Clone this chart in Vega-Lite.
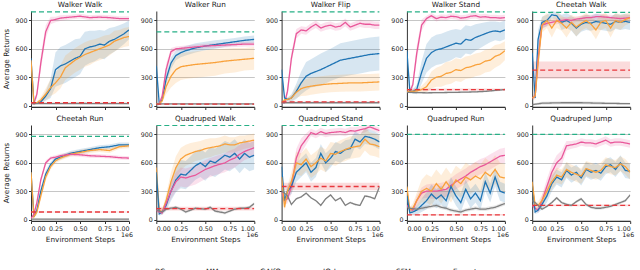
{
"$schema": "https://vega.github.io/schema/vega-lite/v6.json",
"padding": {"left": 2, "right": 4, "top": 0, "bottom": 24},
"data": {"values": [
{"t":0,"m":"SFM","x":0,"y":20,"e":8},{"t":0,"m":"SFM","x":0.03,"y":25,"e":10},{"t":0,"m":"SFM","x":0.06,"y":120,"e":40},{"t":0,"m":"SFM","x":0.1,"y":450,"e":80},{"t":0,"m":"SFM","x":0.15,"y":780,"e":70},{"t":0,"m":"SFM","x":0.2,"y":900,"e":40},{"t":0,"m":"SFM","x":0.25,"y":910,"e":30},{"t":0,"m":"SFM","x":0.3,"y":925,"e":30},{"t":0,"m":"SFM","x":0.4,"y":935,"e":25},{"t":0,"m":"SFM","x":0.5,"y":945,"e":25},{"t":0,"m":"SFM","x":0.6,"y":930,"e":25},{"t":0,"m":"SFM","x":0.7,"y":935,"e":25},{"t":0,"m":"SFM","x":0.8,"y":930,"e":25},{"t":0,"m":"SFM","x":0.9,"y":920,"e":25},{"t":0,"m":"SFM","x":1,"y":920,"e":25},
{"t":0,"m":"GAIfO","x":0,"y":500,"e":20},{"t":0,"m":"GAIfO","x":0.03,"y":20,"e":10},{"t":0,"m":"GAIfO","x":0.06,"y":25,"e":10},{"t":0,"m":"GAIfO","x":0.1,"y":40,"e":20},{"t":0,"m":"GAIfO","x":0.15,"y":100,"e":50},{"t":0,"m":"GAIfO","x":0.2,"y":180,"e":100},{"t":0,"m":"GAIfO","x":0.25,"y":380,"e":180},{"t":0,"m":"GAIfO","x":0.3,"y":420,"e":200},{"t":0,"m":"GAIfO","x":0.35,"y":440,"e":200},{"t":0,"m":"GAIfO","x":0.4,"y":470,"e":200},{"t":0,"m":"GAIfO","x":0.45,"y":500,"e":200},{"t":0,"m":"GAIfO","x":0.5,"y":520,"e":190},{"t":0,"m":"GAIfO","x":0.55,"y":600,"e":180},{"t":0,"m":"GAIfO","x":0.6,"y":620,"e":170},{"t":0,"m":"GAIfO","x":0.65,"y":630,"e":160},{"t":0,"m":"GAIfO","x":0.7,"y":650,"e":150},{"t":0,"m":"GAIfO","x":0.75,"y":640,"e":150},{"t":0,"m":"GAIfO","x":0.8,"y":680,"e":140},{"t":0,"m":"GAIfO","x":0.85,"y":700,"e":130},{"t":0,"m":"GAIfO","x":0.9,"y":730,"e":120},{"t":0,"m":"GAIfO","x":0.95,"y":760,"e":110},{"t":0,"m":"GAIfO","x":1,"y":800,"e":100},
{"t":0,"m":"MM","x":0,"y":480,"e":20},{"t":0,"m":"MM","x":0.03,"y":20,"e":10},{"t":0,"m":"MM","x":0.06,"y":30,"e":10},{"t":0,"m":"MM","x":0.1,"y":60,"e":30},{"t":0,"m":"MM","x":0.15,"y":120,"e":60},{"t":0,"m":"MM","x":0.2,"y":190,"e":90},{"t":0,"m":"MM","x":0.25,"y":240,"e":110},{"t":0,"m":"MM","x":0.3,"y":300,"e":120},{"t":0,"m":"MM","x":0.35,"y":400,"e":130},{"t":0,"m":"MM","x":0.4,"y":440,"e":130},{"t":0,"m":"MM","x":0.45,"y":480,"e":130},{"t":0,"m":"MM","x":0.5,"y":510,"e":130},{"t":0,"m":"MM","x":0.55,"y":540,"e":130},{"t":0,"m":"MM","x":0.6,"y":560,"e":130},{"t":0,"m":"MM","x":0.65,"y":580,"e":120},{"t":0,"m":"MM","x":0.7,"y":600,"e":120},{"t":0,"m":"MM","x":0.75,"y":620,"e":120},{"t":0,"m":"MM","x":0.8,"y":640,"e":110},{"t":0,"m":"MM","x":0.85,"y":680,"e":110},{"t":0,"m":"MM","x":0.9,"y":700,"e":100},{"t":0,"m":"MM","x":0.95,"y":720,"e":100},{"t":0,"m":"MM","x":1,"y":730,"e":100},
{"t":0,"m":"IQ-Learn","x":0,"y":20,"e":5},{"t":0,"m":"IQ-Learn","x":0.5,"y":22,"e":5},{"t":0,"m":"IQ-Learn","x":1,"y":20,"e":5},
{"t":0,"m":"BC","x":0,"y":30,"e":8},{"t":0,"m":"BC","x":1,"y":30,"e":8},
{"t":0,"m":"Expert","x":0,"y":990,"e":0},{"t":0,"m":"Expert","x":1,"y":990,"e":0},

{"t":1,"m":"GAIfO","x":0,"y":420,"e":20},{"t":1,"m":"GAIfO","x":0.03,"y":20,"e":5},{"t":1,"m":"GAIfO","x":0.06,"y":60,"e":20},{"t":1,"m":"GAIfO","x":0.1,"y":280,"e":60},{"t":1,"m":"GAIfO","x":0.15,"y":450,"e":60},{"t":1,"m":"GAIfO","x":0.2,"y":530,"e":50},{"t":1,"m":"GAIfO","x":0.25,"y":560,"e":50},{"t":1,"m":"GAIfO","x":0.3,"y":580,"e":50},{"t":1,"m":"GAIfO","x":0.4,"y":610,"e":50},{"t":1,"m":"GAIfO","x":0.5,"y":630,"e":45},{"t":1,"m":"GAIfO","x":0.6,"y":645,"e":45},{"t":1,"m":"GAIfO","x":0.7,"y":660,"e":40},{"t":1,"m":"GAIfO","x":0.8,"y":675,"e":40},{"t":1,"m":"GAIfO","x":0.9,"y":690,"e":40},{"t":1,"m":"GAIfO","x":1,"y":700,"e":40},
{"t":1,"m":"SFM","x":0,"y":20,"e":5},{"t":1,"m":"SFM","x":0.03,"y":20,"e":5},{"t":1,"m":"SFM","x":0.06,"y":100,"e":30},{"t":1,"m":"SFM","x":0.1,"y":380,"e":60},{"t":1,"m":"SFM","x":0.15,"y":570,"e":40},{"t":1,"m":"SFM","x":0.2,"y":600,"e":25},{"t":1,"m":"SFM","x":0.25,"y":605,"e":25},{"t":1,"m":"SFM","x":0.3,"y":610,"e":25},{"t":1,"m":"SFM","x":0.4,"y":620,"e":25},{"t":1,"m":"SFM","x":0.5,"y":630,"e":25},{"t":1,"m":"SFM","x":0.6,"y":635,"e":25},{"t":1,"m":"SFM","x":0.7,"y":640,"e":25},{"t":1,"m":"SFM","x":0.8,"y":645,"e":25},{"t":1,"m":"SFM","x":0.9,"y":650,"e":25},{"t":1,"m":"SFM","x":1,"y":650,"e":25},
{"t":1,"m":"MM","x":0,"y":20,"e":5},{"t":1,"m":"MM","x":0.03,"y":20,"e":5},{"t":1,"m":"MM","x":0.06,"y":50,"e":20},{"t":1,"m":"MM","x":0.1,"y":200,"e":80},{"t":1,"m":"MM","x":0.15,"y":310,"e":120},{"t":1,"m":"MM","x":0.2,"y":380,"e":140},{"t":1,"m":"MM","x":0.25,"y":410,"e":140},{"t":1,"m":"MM","x":0.3,"y":420,"e":140},{"t":1,"m":"MM","x":0.4,"y":435,"e":140},{"t":1,"m":"MM","x":0.5,"y":445,"e":140},{"t":1,"m":"MM","x":0.6,"y":455,"e":140},{"t":1,"m":"MM","x":0.7,"y":470,"e":130},{"t":1,"m":"MM","x":0.8,"y":480,"e":130},{"t":1,"m":"MM","x":0.9,"y":490,"e":120},{"t":1,"m":"MM","x":1,"y":500,"e":120},
{"t":1,"m":"IQ-Learn","x":0,"y":18,"e":4},{"t":1,"m":"IQ-Learn","x":1,"y":18,"e":4},
{"t":1,"m":"BC","x":0,"y":15,"e":4},{"t":1,"m":"BC","x":1,"y":15,"e":4},
{"t":1,"m":"Expert","x":0,"y":780,"e":0},{"t":1,"m":"Expert","x":1,"y":780,"e":0},

{"t":2,"m":"SFM","x":0,"y":30,"e":8},{"t":2,"m":"SFM","x":0.03,"y":30,"e":8},{"t":2,"m":"SFM","x":0.06,"y":150,"e":50},{"t":2,"m":"SFM","x":0.1,"y":500,"e":60},{"t":2,"m":"SFM","x":0.15,"y":760,"e":50},{"t":2,"m":"SFM","x":0.2,"y":800,"e":40},{"t":2,"m":"SFM","x":0.25,"y":790,"e":40},{"t":2,"m":"SFM","x":0.3,"y":830,"e":40},{"t":2,"m":"SFM","x":0.35,"y":860,"e":40},{"t":2,"m":"SFM","x":0.4,"y":820,"e":40},{"t":2,"m":"SFM","x":0.45,"y":840,"e":40},{"t":2,"m":"SFM","x":0.5,"y":850,"e":40},{"t":2,"m":"SFM","x":0.55,"y":830,"e":40},{"t":2,"m":"SFM","x":0.6,"y":840,"e":40},{"t":2,"m":"SFM","x":0.65,"y":880,"e":40},{"t":2,"m":"SFM","x":0.7,"y":830,"e":40},{"t":2,"m":"SFM","x":0.75,"y":850,"e":40},{"t":2,"m":"SFM","x":0.8,"y":870,"e":40},{"t":2,"m":"SFM","x":0.85,"y":860,"e":40},{"t":2,"m":"SFM","x":0.9,"y":860,"e":40},{"t":2,"m":"SFM","x":0.95,"y":850,"e":40},{"t":2,"m":"SFM","x":1,"y":850,"e":40},
{"t":2,"m":"GAIfO","x":0,"y":380,"e":20},{"t":2,"m":"GAIfO","x":0.03,"y":80,"e":20},{"t":2,"m":"GAIfO","x":0.06,"y":65,"e":20},{"t":2,"m":"GAIfO","x":0.1,"y":80,"e":40},{"t":2,"m":"GAIfO","x":0.15,"y":150,"e":80},{"t":2,"m":"GAIfO","x":0.2,"y":240,"e":120},{"t":2,"m":"GAIfO","x":0.25,"y":310,"e":150},{"t":2,"m":"GAIfO","x":0.3,"y":340,"e":150},{"t":2,"m":"GAIfO","x":0.4,"y":380,"e":170},{"t":2,"m":"GAIfO","x":0.5,"y":430,"e":170},{"t":2,"m":"GAIfO","x":0.6,"y":480,"e":180},{"t":2,"m":"GAIfO","x":0.7,"y":500,"e":180},{"t":2,"m":"GAIfO","x":0.8,"y":520,"e":180},{"t":2,"m":"GAIfO","x":0.9,"y":540,"e":180},{"t":2,"m":"GAIfO","x":1,"y":550,"e":180},
{"t":2,"m":"MM","x":0,"y":30,"e":10},{"t":2,"m":"MM","x":0.03,"y":60,"e":15},{"t":2,"m":"MM","x":0.06,"y":65,"e":15},{"t":2,"m":"MM","x":0.1,"y":80,"e":30},{"t":2,"m":"MM","x":0.15,"y":140,"e":60},{"t":2,"m":"MM","x":0.2,"y":180,"e":80},{"t":2,"m":"MM","x":0.25,"y":195,"e":90},{"t":2,"m":"MM","x":0.3,"y":205,"e":90},{"t":2,"m":"MM","x":0.4,"y":220,"e":90},{"t":2,"m":"MM","x":0.5,"y":230,"e":90},{"t":2,"m":"MM","x":0.6,"y":235,"e":90},{"t":2,"m":"MM","x":0.7,"y":240,"e":90},{"t":2,"m":"MM","x":0.8,"y":240,"e":90},{"t":2,"m":"MM","x":0.9,"y":245,"e":90},{"t":2,"m":"MM","x":1,"y":250,"e":90},
{"t":2,"m":"IQ-Learn","x":0,"y":30,"e":5},{"t":2,"m":"IQ-Learn","x":1,"y":30,"e":5},
{"t":2,"m":"BC","x":0,"y":40,"e":6},{"t":2,"m":"BC","x":1,"y":40,"e":6},
{"t":2,"m":"Expert","x":0,"y":990,"e":0},{"t":2,"m":"Expert","x":1,"y":990,"e":0},

{"t":3,"m":"SFM","x":0,"y":150,"e":10},{"t":3,"m":"SFM","x":0.03,"y":150,"e":10},{"t":3,"m":"SFM","x":0.06,"y":220,"e":40},{"t":3,"m":"SFM","x":0.1,"y":550,"e":80},{"t":3,"m":"SFM","x":0.15,"y":850,"e":60},{"t":3,"m":"SFM","x":0.2,"y":920,"e":30},{"t":3,"m":"SFM","x":0.25,"y":950,"e":30},{"t":3,"m":"SFM","x":0.3,"y":920,"e":30},{"t":3,"m":"SFM","x":0.35,"y":935,"e":30},{"t":3,"m":"SFM","x":0.4,"y":930,"e":30},{"t":3,"m":"SFM","x":0.45,"y":945,"e":30},{"t":3,"m":"SFM","x":0.5,"y":940,"e":30},{"t":3,"m":"SFM","x":0.55,"y":925,"e":30},{"t":3,"m":"SFM","x":0.6,"y":930,"e":30},{"t":3,"m":"SFM","x":0.65,"y":945,"e":30},{"t":3,"m":"SFM","x":0.7,"y":950,"e":30},{"t":3,"m":"SFM","x":0.75,"y":935,"e":30},{"t":3,"m":"SFM","x":0.8,"y":940,"e":30},{"t":3,"m":"SFM","x":0.85,"y":930,"e":30},{"t":3,"m":"SFM","x":0.9,"y":930,"e":30},{"t":3,"m":"SFM","x":0.95,"y":925,"e":30},{"t":3,"m":"SFM","x":1,"y":930,"e":30},
{"t":3,"m":"GAIfO","x":0,"y":580,"e":20},{"t":3,"m":"GAIfO","x":0.03,"y":150,"e":20},{"t":3,"m":"GAIfO","x":0.06,"y":150,"e":20},{"t":3,"m":"GAIfO","x":0.1,"y":170,"e":50},{"t":3,"m":"GAIfO","x":0.15,"y":350,"e":120},{"t":3,"m":"GAIfO","x":0.2,"y":500,"e":150},{"t":3,"m":"GAIfO","x":0.25,"y":560,"e":160},{"t":3,"m":"GAIfO","x":0.3,"y":590,"e":160},{"t":3,"m":"GAIfO","x":0.35,"y":600,"e":160},{"t":3,"m":"GAIfO","x":0.4,"y":620,"e":160},{"t":3,"m":"GAIfO","x":0.45,"y":640,"e":160},{"t":3,"m":"GAIfO","x":0.5,"y":660,"e":150},{"t":3,"m":"GAIfO","x":0.55,"y":650,"e":150},{"t":3,"m":"GAIfO","x":0.6,"y":700,"e":150},{"t":3,"m":"GAIfO","x":0.65,"y":690,"e":150},{"t":3,"m":"GAIfO","x":0.7,"y":720,"e":140},{"t":3,"m":"GAIfO","x":0.75,"y":740,"e":130},{"t":3,"m":"GAIfO","x":0.8,"y":760,"e":120},{"t":3,"m":"GAIfO","x":0.85,"y":780,"e":110},{"t":3,"m":"GAIfO","x":0.9,"y":790,"e":100},{"t":3,"m":"GAIfO","x":0.95,"y":780,"e":100},{"t":3,"m":"GAIfO","x":1,"y":800,"e":100},
{"t":3,"m":"MM","x":0,"y":150,"e":10},{"t":3,"m":"MM","x":0.03,"y":150,"e":10},{"t":3,"m":"MM","x":0.06,"y":150,"e":15},{"t":3,"m":"MM","x":0.1,"y":155,"e":20},{"t":3,"m":"MM","x":0.15,"y":170,"e":40},{"t":3,"m":"MM","x":0.2,"y":200,"e":60},{"t":3,"m":"MM","x":0.25,"y":270,"e":90},{"t":3,"m":"MM","x":0.3,"y":300,"e":100},{"t":3,"m":"MM","x":0.35,"y":310,"e":110},{"t":3,"m":"MM","x":0.4,"y":340,"e":120},{"t":3,"m":"MM","x":0.45,"y":350,"e":120},{"t":3,"m":"MM","x":0.5,"y":380,"e":120},{"t":3,"m":"MM","x":0.55,"y":370,"e":120},{"t":3,"m":"MM","x":0.6,"y":400,"e":120},{"t":3,"m":"MM","x":0.65,"y":410,"e":120},{"t":3,"m":"MM","x":0.7,"y":430,"e":120},{"t":3,"m":"MM","x":0.75,"y":440,"e":120},{"t":3,"m":"MM","x":0.8,"y":470,"e":120},{"t":3,"m":"MM","x":0.85,"y":480,"e":120},{"t":3,"m":"MM","x":0.9,"y":520,"e":120},{"t":3,"m":"MM","x":0.95,"y":540,"e":110},{"t":3,"m":"MM","x":1,"y":580,"e":100},
{"t":3,"m":"IQ-Learn","x":0,"y":140,"e":10},{"t":3,"m":"IQ-Learn","x":0.2,"y":135,"e":10},{"t":3,"m":"IQ-Learn","x":0.5,"y":140,"e":10},{"t":3,"m":"IQ-Learn","x":0.7,"y":145,"e":10},{"t":3,"m":"IQ-Learn","x":0.8,"y":150,"e":10},{"t":3,"m":"IQ-Learn","x":0.9,"y":160,"e":10},{"t":3,"m":"IQ-Learn","x":1,"y":170,"e":10},
{"t":3,"m":"BC","x":0,"y":168,"e":12},{"t":3,"m":"BC","x":1,"y":168,"e":12},
{"t":3,"m":"Expert","x":0,"y":990,"e":0},{"t":3,"m":"Expert","x":1,"y":990,"e":0},

{"t":4,"m":"GAIfO","x":0,"y":560,"e":20},{"t":4,"m":"GAIfO","x":0.03,"y":80,"e":30},{"t":4,"m":"GAIfO","x":0.06,"y":700,"e":100},{"t":4,"m":"GAIfO","x":0.1,"y":880,"e":60},{"t":4,"m":"GAIfO","x":0.15,"y":900,"e":60},{"t":4,"m":"GAIfO","x":0.2,"y":960,"e":40},{"t":4,"m":"GAIfO","x":0.25,"y":950,"e":40},{"t":4,"m":"GAIfO","x":0.3,"y":880,"e":80},{"t":4,"m":"GAIfO","x":0.35,"y":900,"e":80},{"t":4,"m":"GAIfO","x":0.4,"y":870,"e":80},{"t":4,"m":"GAIfO","x":0.45,"y":820,"e":90},{"t":4,"m":"GAIfO","x":0.5,"y":860,"e":80},{"t":4,"m":"GAIfO","x":0.55,"y":880,"e":80},{"t":4,"m":"GAIfO","x":0.6,"y":870,"e":80},{"t":4,"m":"GAIfO","x":0.65,"y":890,"e":80},{"t":4,"m":"GAIfO","x":0.7,"y":880,"e":80},{"t":4,"m":"GAIfO","x":0.75,"y":870,"e":80},{"t":4,"m":"GAIfO","x":0.8,"y":860,"e":80},{"t":4,"m":"GAIfO","x":0.85,"y":890,"e":80},{"t":4,"m":"GAIfO","x":0.9,"y":880,"e":80},{"t":4,"m":"GAIfO","x":0.95,"y":890,"e":80},{"t":4,"m":"GAIfO","x":1,"y":880,"e":80},
{"t":4,"m":"SFM","x":0,"y":80,"e":20},{"t":4,"m":"SFM","x":0.03,"y":100,"e":30},{"t":4,"m":"SFM","x":0.06,"y":500,"e":100},{"t":4,"m":"SFM","x":0.1,"y":850,"e":40},{"t":4,"m":"SFM","x":0.15,"y":870,"e":30},{"t":4,"m":"SFM","x":0.2,"y":880,"e":30},{"t":4,"m":"SFM","x":0.25,"y":890,"e":30},{"t":4,"m":"SFM","x":0.3,"y":900,"e":30},{"t":4,"m":"SFM","x":0.35,"y":910,"e":30},{"t":4,"m":"SFM","x":0.4,"y":900,"e":30},{"t":4,"m":"SFM","x":0.45,"y":915,"e":30},{"t":4,"m":"SFM","x":0.5,"y":920,"e":30},{"t":4,"m":"SFM","x":0.55,"y":930,"e":30},{"t":4,"m":"SFM","x":0.6,"y":930,"e":30},{"t":4,"m":"SFM","x":0.65,"y":940,"e":30},{"t":4,"m":"SFM","x":0.7,"y":940,"e":30},{"t":4,"m":"SFM","x":0.75,"y":935,"e":30},{"t":4,"m":"SFM","x":0.8,"y":930,"e":30},{"t":4,"m":"SFM","x":0.85,"y":925,"e":30},{"t":4,"m":"SFM","x":0.9,"y":920,"e":30},{"t":4,"m":"SFM","x":0.95,"y":925,"e":30},{"t":4,"m":"SFM","x":1,"y":930,"e":30},
{"t":4,"m":"MM","x":0,"y":80,"e":20},{"t":4,"m":"MM","x":0.03,"y":100,"e":30},{"t":4,"m":"MM","x":0.06,"y":450,"e":120},{"t":4,"m":"MM","x":0.1,"y":850,"e":80},{"t":4,"m":"MM","x":0.15,"y":900,"e":80},{"t":4,"m":"MM","x":0.2,"y":820,"e":100},{"t":4,"m":"MM","x":0.25,"y":900,"e":80},{"t":4,"m":"MM","x":0.3,"y":870,"e":80},{"t":4,"m":"MM","x":0.35,"y":820,"e":100},{"t":4,"m":"MM","x":0.4,"y":880,"e":80},{"t":4,"m":"MM","x":0.45,"y":830,"e":100},{"t":4,"m":"MM","x":0.5,"y":870,"e":80},{"t":4,"m":"MM","x":0.55,"y":900,"e":80},{"t":4,"m":"MM","x":0.6,"y":860,"e":80},{"t":4,"m":"MM","x":0.65,"y":800,"e":100},{"t":4,"m":"MM","x":0.7,"y":880,"e":80},{"t":4,"m":"MM","x":0.75,"y":900,"e":80},{"t":4,"m":"MM","x":0.8,"y":820,"e":100},{"t":4,"m":"MM","x":0.85,"y":900,"e":80},{"t":4,"m":"MM","x":0.9,"y":880,"e":80},{"t":4,"m":"MM","x":0.95,"y":910,"e":60},{"t":4,"m":"MM","x":1,"y":930,"e":60},
{"t":4,"m":"IQ-Learn","x":0,"y":10,"e":10},{"t":4,"m":"IQ-Learn","x":0.1,"y":25,"e":15},{"t":4,"m":"IQ-Learn","x":0.3,"y":30,"e":15},{"t":4,"m":"IQ-Learn","x":0.5,"y":30,"e":15},{"t":4,"m":"IQ-Learn","x":0.7,"y":25,"e":15},{"t":4,"m":"IQ-Learn","x":1,"y":20,"e":10},
{"t":4,"m":"BC","x":0,"y":375,"e":90},{"t":4,"m":"BC","x":1,"y":375,"e":90},
{"t":4,"m":"Expert","x":0,"y":985,"e":0},{"t":4,"m":"Expert","x":1,"y":985,"e":0},

{"t":5,"m":"GAIfO","x":0,"y":500,"e":20},{"t":5,"m":"GAIfO","x":0.03,"y":30,"e":10},{"t":5,"m":"GAIfO","x":0.06,"y":100,"e":30},{"t":5,"m":"GAIfO","x":0.1,"y":300,"e":40},{"t":5,"m":"GAIfO","x":0.15,"y":480,"e":40},{"t":5,"m":"GAIfO","x":0.2,"y":580,"e":30},{"t":5,"m":"GAIfO","x":0.25,"y":640,"e":25},{"t":5,"m":"GAIfO","x":0.3,"y":660,"e":25},{"t":5,"m":"GAIfO","x":0.4,"y":700,"e":25},{"t":5,"m":"GAIfO","x":0.5,"y":720,"e":25},{"t":5,"m":"GAIfO","x":0.6,"y":740,"e":25},{"t":5,"m":"GAIfO","x":0.7,"y":760,"e":25},{"t":5,"m":"GAIfO","x":0.8,"y":770,"e":25},{"t":5,"m":"GAIfO","x":0.9,"y":790,"e":25},{"t":5,"m":"GAIfO","x":1,"y":790,"e":25},
{"t":5,"m":"MM","x":0,"y":500,"e":20},{"t":5,"m":"MM","x":0.03,"y":30,"e":10},{"t":5,"m":"MM","x":0.06,"y":80,"e":30},{"t":5,"m":"MM","x":0.1,"y":250,"e":40},{"t":5,"m":"MM","x":0.15,"y":450,"e":40},{"t":5,"m":"MM","x":0.2,"y":560,"e":30},{"t":5,"m":"MM","x":0.25,"y":620,"e":25},{"t":5,"m":"MM","x":0.3,"y":650,"e":25},{"t":5,"m":"MM","x":0.4,"y":690,"e":25},{"t":5,"m":"MM","x":0.5,"y":710,"e":25},{"t":5,"m":"MM","x":0.6,"y":730,"e":25},{"t":5,"m":"MM","x":0.7,"y":740,"e":25},{"t":5,"m":"MM","x":0.8,"y":730,"e":25},{"t":5,"m":"MM","x":0.9,"y":770,"e":25},{"t":5,"m":"MM","x":1,"y":780,"e":25},
{"t":5,"m":"SFM","x":0,"y":10,"e":5},{"t":5,"m":"SFM","x":0.03,"y":60,"e":15},{"t":5,"m":"SFM","x":0.06,"y":180,"e":30},{"t":5,"m":"SFM","x":0.1,"y":420,"e":30},{"t":5,"m":"SFM","x":0.15,"y":600,"e":25},{"t":5,"m":"SFM","x":0.2,"y":650,"e":20},{"t":5,"m":"SFM","x":0.25,"y":660,"e":20},{"t":5,"m":"SFM","x":0.3,"y":675,"e":20},{"t":5,"m":"SFM","x":0.4,"y":690,"e":20},{"t":5,"m":"SFM","x":0.5,"y":685,"e":20},{"t":5,"m":"SFM","x":0.6,"y":675,"e":20},{"t":5,"m":"SFM","x":0.7,"y":670,"e":20},{"t":5,"m":"SFM","x":0.8,"y":665,"e":20},{"t":5,"m":"SFM","x":0.9,"y":655,"e":20},{"t":5,"m":"SFM","x":1,"y":650,"e":20},
{"t":5,"m":"IQ-Learn","x":0,"y":5,"e":3},{"t":5,"m":"IQ-Learn","x":1,"y":5,"e":3},
{"t":5,"m":"BC","x":0,"y":80,"e":5},{"t":5,"m":"BC","x":1,"y":80,"e":5},
{"t":5,"m":"Expert","x":0,"y":880,"e":0},{"t":5,"m":"Expert","x":1,"y":880,"e":0},

{"t":6,"m":"MM","x":0,"y":550,"e":20},{"t":6,"m":"MM","x":0.03,"y":100,"e":20},{"t":6,"m":"MM","x":0.06,"y":80,"e":30},{"t":6,"m":"MM","x":0.1,"y":200,"e":60},{"t":6,"m":"MM","x":0.15,"y":400,"e":100},{"t":6,"m":"MM","x":0.2,"y":550,"e":120},{"t":6,"m":"MM","x":0.25,"y":640,"e":120},{"t":6,"m":"MM","x":0.3,"y":680,"e":110},{"t":6,"m":"MM","x":0.35,"y":700,"e":110},{"t":6,"m":"MM","x":0.4,"y":720,"e":100},{"t":6,"m":"MM","x":0.45,"y":730,"e":100},{"t":6,"m":"MM","x":0.5,"y":750,"e":100},{"t":6,"m":"MM","x":0.55,"y":760,"e":100},{"t":6,"m":"MM","x":0.6,"y":770,"e":90},{"t":6,"m":"MM","x":0.65,"y":780,"e":90},{"t":6,"m":"MM","x":0.7,"y":800,"e":90},{"t":6,"m":"MM","x":0.75,"y":790,"e":80},{"t":6,"m":"MM","x":0.8,"y":790,"e":80},{"t":6,"m":"MM","x":0.85,"y":810,"e":80},{"t":6,"m":"MM","x":0.9,"y":820,"e":70},{"t":6,"m":"MM","x":0.95,"y":830,"e":70},{"t":6,"m":"MM","x":1,"y":840,"e":70},
{"t":6,"m":"GAIfO","x":0,"y":500,"e":20},{"t":6,"m":"GAIfO","x":0.03,"y":60,"e":20},{"t":6,"m":"GAIfO","x":0.06,"y":80,"e":30},{"t":6,"m":"GAIfO","x":0.1,"y":150,"e":60},{"t":6,"m":"GAIfO","x":0.15,"y":300,"e":100},{"t":6,"m":"GAIfO","x":0.2,"y":420,"e":130},{"t":6,"m":"GAIfO","x":0.25,"y":480,"e":150},{"t":6,"m":"GAIfO","x":0.3,"y":470,"e":150},{"t":6,"m":"GAIfO","x":0.35,"y":520,"e":150},{"t":6,"m":"GAIfO","x":0.4,"y":570,"e":150},{"t":6,"m":"GAIfO","x":0.45,"y":600,"e":150},{"t":6,"m":"GAIfO","x":0.5,"y":560,"e":150},{"t":6,"m":"GAIfO","x":0.55,"y":620,"e":150},{"t":6,"m":"GAIfO","x":0.6,"y":600,"e":150},{"t":6,"m":"GAIfO","x":0.65,"y":640,"e":150},{"t":6,"m":"GAIfO","x":0.7,"y":680,"e":150},{"t":6,"m":"GAIfO","x":0.75,"y":660,"e":150},{"t":6,"m":"GAIfO","x":0.8,"y":700,"e":150},{"t":6,"m":"GAIfO","x":0.85,"y":640,"e":150},{"t":6,"m":"GAIfO","x":0.9,"y":700,"e":150},{"t":6,"m":"GAIfO","x":0.95,"y":660,"e":150},{"t":6,"m":"GAIfO","x":1,"y":680,"e":150},
{"t":6,"m":"SFM","x":0,"y":100,"e":20},{"t":6,"m":"SFM","x":0.03,"y":80,"e":20},{"t":6,"m":"SFM","x":0.06,"y":70,"e":20},{"t":6,"m":"SFM","x":0.1,"y":170,"e":50},{"t":6,"m":"SFM","x":0.15,"y":300,"e":80},{"t":6,"m":"SFM","x":0.2,"y":400,"e":100},{"t":6,"m":"SFM","x":0.25,"y":450,"e":100},{"t":6,"m":"SFM","x":0.3,"y":440,"e":100},{"t":6,"m":"SFM","x":0.35,"y":455,"e":100},{"t":6,"m":"SFM","x":0.4,"y":470,"e":100},{"t":6,"m":"SFM","x":0.45,"y":500,"e":100},{"t":6,"m":"SFM","x":0.5,"y":530,"e":100},{"t":6,"m":"SFM","x":0.55,"y":550,"e":100},{"t":6,"m":"SFM","x":0.6,"y":570,"e":100},{"t":6,"m":"SFM","x":0.65,"y":585,"e":100},{"t":6,"m":"SFM","x":0.7,"y":600,"e":100},{"t":6,"m":"SFM","x":0.75,"y":630,"e":100},{"t":6,"m":"SFM","x":0.8,"y":650,"e":100},{"t":6,"m":"SFM","x":0.85,"y":690,"e":100},{"t":6,"m":"SFM","x":0.9,"y":720,"e":90},{"t":6,"m":"SFM","x":0.95,"y":740,"e":90},{"t":6,"m":"SFM","x":1,"y":760,"e":90},
{"t":6,"m":"IQ-Learn","x":0,"y":100,"e":15},{"t":6,"m":"IQ-Learn","x":0.03,"y":90,"e":15},{"t":6,"m":"IQ-Learn","x":0.06,"y":80,"e":15},{"t":6,"m":"IQ-Learn","x":0.1,"y":110,"e":15},{"t":6,"m":"IQ-Learn","x":0.15,"y":120,"e":15},{"t":6,"m":"IQ-Learn","x":0.2,"y":130,"e":15},{"t":6,"m":"IQ-Learn","x":0.25,"y":110,"e":15},{"t":6,"m":"IQ-Learn","x":0.3,"y":80,"e":15},{"t":6,"m":"IQ-Learn","x":0.35,"y":100,"e":15},{"t":6,"m":"IQ-Learn","x":0.4,"y":120,"e":15},{"t":6,"m":"IQ-Learn","x":0.45,"y":115,"e":15},{"t":6,"m":"IQ-Learn","x":0.5,"y":110,"e":15},{"t":6,"m":"IQ-Learn","x":0.55,"y":130,"e":15},{"t":6,"m":"IQ-Learn","x":0.6,"y":90,"e":15},{"t":6,"m":"IQ-Learn","x":0.65,"y":80,"e":15},{"t":6,"m":"IQ-Learn","x":0.7,"y":70,"e":15},{"t":6,"m":"IQ-Learn","x":0.75,"y":90,"e":15},{"t":6,"m":"IQ-Learn","x":0.8,"y":110,"e":15},{"t":6,"m":"IQ-Learn","x":0.85,"y":120,"e":15},{"t":6,"m":"IQ-Learn","x":0.9,"y":120,"e":15},{"t":6,"m":"IQ-Learn","x":0.95,"y":130,"e":15},{"t":6,"m":"IQ-Learn","x":1,"y":170,"e":15},
{"t":6,"m":"BC","x":0,"y":115,"e":20},{"t":6,"m":"BC","x":1,"y":115,"e":20},
{"t":6,"m":"Expert","x":0,"y":995,"e":0},{"t":6,"m":"Expert","x":1,"y":995,"e":0},

{"t":7,"m":"SFM","x":0,"y":300,"e":30},{"t":7,"m":"SFM","x":0.03,"y":200,"e":40},{"t":7,"m":"SFM","x":0.06,"y":220,"e":50},{"t":7,"m":"SFM","x":0.1,"y":350,"e":80},{"t":7,"m":"SFM","x":0.15,"y":650,"e":100},{"t":7,"m":"SFM","x":0.2,"y":780,"e":80},{"t":7,"m":"SFM","x":0.25,"y":850,"e":60},{"t":7,"m":"SFM","x":0.3,"y":920,"e":40},{"t":7,"m":"SFM","x":0.35,"y":900,"e":40},{"t":7,"m":"SFM","x":0.4,"y":930,"e":40},{"t":7,"m":"SFM","x":0.45,"y":910,"e":40},{"t":7,"m":"SFM","x":0.5,"y":920,"e":40},{"t":7,"m":"SFM","x":0.55,"y":925,"e":40},{"t":7,"m":"SFM","x":0.6,"y":930,"e":40},{"t":7,"m":"SFM","x":0.65,"y":920,"e":40},{"t":7,"m":"SFM","x":0.7,"y":940,"e":40},{"t":7,"m":"SFM","x":0.75,"y":935,"e":40},{"t":7,"m":"SFM","x":0.8,"y":950,"e":40},{"t":7,"m":"SFM","x":0.85,"y":960,"e":40},{"t":7,"m":"SFM","x":0.9,"y":980,"e":30},{"t":7,"m":"SFM","x":0.95,"y":960,"e":30},{"t":7,"m":"SFM","x":1,"y":940,"e":30},
{"t":7,"m":"GAIfO","x":0,"y":560,"e":20},{"t":7,"m":"GAIfO","x":0.03,"y":200,"e":40},{"t":7,"m":"GAIfO","x":0.06,"y":300,"e":60},{"t":7,"m":"GAIfO","x":0.1,"y":350,"e":80},{"t":7,"m":"GAIfO","x":0.15,"y":500,"e":100},{"t":7,"m":"GAIfO","x":0.2,"y":550,"e":100},{"t":7,"m":"GAIfO","x":0.25,"y":600,"e":100},{"t":7,"m":"GAIfO","x":0.3,"y":500,"e":100},{"t":7,"m":"GAIfO","x":0.35,"y":550,"e":100},{"t":7,"m":"GAIfO","x":0.4,"y":700,"e":100},{"t":7,"m":"GAIfO","x":0.45,"y":600,"e":100},{"t":7,"m":"GAIfO","x":0.5,"y":650,"e":100},{"t":7,"m":"GAIfO","x":0.55,"y":720,"e":100},{"t":7,"m":"GAIfO","x":0.6,"y":700,"e":100},{"t":7,"m":"GAIfO","x":0.65,"y":740,"e":100},{"t":7,"m":"GAIfO","x":0.7,"y":750,"e":100},{"t":7,"m":"GAIfO","x":0.75,"y":850,"e":80},{"t":7,"m":"GAIfO","x":0.8,"y":820,"e":80},{"t":7,"m":"GAIfO","x":0.85,"y":880,"e":80},{"t":7,"m":"GAIfO","x":0.9,"y":870,"e":80},{"t":7,"m":"GAIfO","x":0.95,"y":850,"e":80},{"t":7,"m":"GAIfO","x":1,"y":820,"e":80},
{"t":7,"m":"MM","x":0,"y":450,"e":20},{"t":7,"m":"MM","x":0.03,"y":130,"e":40},{"t":7,"m":"MM","x":0.06,"y":300,"e":60},{"t":7,"m":"MM","x":0.1,"y":400,"e":100},{"t":7,"m":"MM","x":0.15,"y":600,"e":120},{"t":7,"m":"MM","x":0.2,"y":580,"e":120},{"t":7,"m":"MM","x":0.25,"y":640,"e":120},{"t":7,"m":"MM","x":0.3,"y":560,"e":120},{"t":7,"m":"MM","x":0.35,"y":600,"e":120},{"t":7,"m":"MM","x":0.4,"y":650,"e":120},{"t":7,"m":"MM","x":0.45,"y":620,"e":120},{"t":7,"m":"MM","x":0.5,"y":700,"e":120},{"t":7,"m":"MM","x":0.55,"y":690,"e":120},{"t":7,"m":"MM","x":0.6,"y":720,"e":120},{"t":7,"m":"MM","x":0.65,"y":740,"e":120},{"t":7,"m":"MM","x":0.7,"y":760,"e":120},{"t":7,"m":"MM","x":0.75,"y":770,"e":120},{"t":7,"m":"MM","x":0.8,"y":780,"e":120},{"t":7,"m":"MM","x":0.85,"y":850,"e":120},{"t":7,"m":"MM","x":0.9,"y":800,"e":120},{"t":7,"m":"MM","x":0.95,"y":790,"e":120},{"t":7,"m":"MM","x":1,"y":770,"e":120},
{"t":7,"m":"IQ-Learn","x":0,"y":300,"e":10},{"t":7,"m":"IQ-Learn","x":0.03,"y":280,"e":10},{"t":7,"m":"IQ-Learn","x":0.06,"y":250,"e":10},{"t":7,"m":"IQ-Learn","x":0.1,"y":160,"e":10},{"t":7,"m":"IQ-Learn","x":0.15,"y":220,"e":10},{"t":7,"m":"IQ-Learn","x":0.2,"y":240,"e":10},{"t":7,"m":"IQ-Learn","x":0.25,"y":280,"e":10},{"t":7,"m":"IQ-Learn","x":0.3,"y":230,"e":10},{"t":7,"m":"IQ-Learn","x":0.35,"y":200,"e":10},{"t":7,"m":"IQ-Learn","x":0.4,"y":150,"e":10},{"t":7,"m":"IQ-Learn","x":0.45,"y":220,"e":10},{"t":7,"m":"IQ-Learn","x":0.5,"y":260,"e":10},{"t":7,"m":"IQ-Learn","x":0.55,"y":200,"e":10},{"t":7,"m":"IQ-Learn","x":0.6,"y":230,"e":10},{"t":7,"m":"IQ-Learn","x":0.65,"y":150,"e":10},{"t":7,"m":"IQ-Learn","x":0.7,"y":180,"e":10},{"t":7,"m":"IQ-Learn","x":0.75,"y":160,"e":10},{"t":7,"m":"IQ-Learn","x":0.8,"y":150,"e":10},{"t":7,"m":"IQ-Learn","x":0.85,"y":250,"e":10},{"t":7,"m":"IQ-Learn","x":0.9,"y":240,"e":10},{"t":7,"m":"IQ-Learn","x":0.95,"y":220,"e":10},{"t":7,"m":"IQ-Learn","x":1,"y":350,"e":10},
{"t":7,"m":"BC","x":0,"y":350,"e":40},{"t":7,"m":"BC","x":1,"y":350,"e":40},
{"t":7,"m":"Expert","x":0,"y":995,"e":0},{"t":7,"m":"Expert","x":1,"y":995,"e":0},

{"t":8,"m":"SFM","x":0,"y":150,"e":20},{"t":8,"m":"SFM","x":0.03,"y":110,"e":20},{"t":8,"m":"SFM","x":0.06,"y":100,"e":30},{"t":8,"m":"SFM","x":0.1,"y":200,"e":50},{"t":8,"m":"SFM","x":0.15,"y":280,"e":60},{"t":8,"m":"SFM","x":0.2,"y":300,"e":70},{"t":8,"m":"SFM","x":0.25,"y":300,"e":80},{"t":8,"m":"SFM","x":0.3,"y":300,"e":80},{"t":8,"m":"SFM","x":0.35,"y":310,"e":80},{"t":8,"m":"SFM","x":0.4,"y":320,"e":80},{"t":8,"m":"SFM","x":0.45,"y":360,"e":80},{"t":8,"m":"SFM","x":0.5,"y":400,"e":80},{"t":8,"m":"SFM","x":0.55,"y":430,"e":80},{"t":8,"m":"SFM","x":0.6,"y":460,"e":80},{"t":8,"m":"SFM","x":0.65,"y":500,"e":80},{"t":8,"m":"SFM","x":0.7,"y":530,"e":80},{"t":8,"m":"SFM","x":0.75,"y":560,"e":80},{"t":8,"m":"SFM","x":0.8,"y":580,"e":80},{"t":8,"m":"SFM","x":0.85,"y":610,"e":80},{"t":8,"m":"SFM","x":0.9,"y":640,"e":80},{"t":8,"m":"SFM","x":0.95,"y":670,"e":80},{"t":8,"m":"SFM","x":1,"y":680,"e":80},
{"t":8,"m":"MM","x":0,"y":350,"e":20},{"t":8,"m":"MM","x":0.03,"y":100,"e":30},{"t":8,"m":"MM","x":0.06,"y":120,"e":50},{"t":8,"m":"MM","x":0.1,"y":200,"e":80},{"t":8,"m":"MM","x":0.15,"y":300,"e":120},{"t":8,"m":"MM","x":0.2,"y":330,"e":150},{"t":8,"m":"MM","x":0.25,"y":300,"e":150},{"t":8,"m":"MM","x":0.3,"y":380,"e":150},{"t":8,"m":"MM","x":0.35,"y":320,"e":150},{"t":8,"m":"MM","x":0.4,"y":400,"e":150},{"t":8,"m":"MM","x":0.45,"y":330,"e":150},{"t":8,"m":"MM","x":0.5,"y":420,"e":150},{"t":8,"m":"MM","x":0.55,"y":380,"e":150},{"t":8,"m":"MM","x":0.6,"y":450,"e":150},{"t":8,"m":"MM","x":0.65,"y":420,"e":150},{"t":8,"m":"MM","x":0.7,"y":460,"e":150},{"t":8,"m":"MM","x":0.75,"y":430,"e":150},{"t":8,"m":"MM","x":0.8,"y":500,"e":150},{"t":8,"m":"MM","x":0.85,"y":460,"e":150},{"t":8,"m":"MM","x":0.9,"y":530,"e":150},{"t":8,"m":"MM","x":0.95,"y":450,"e":150},{"t":8,"m":"MM","x":1,"y":440,"e":150},
{"t":8,"m":"GAIfO","x":0,"y":250,"e":20},{"t":8,"m":"GAIfO","x":0.03,"y":70,"e":20},{"t":8,"m":"GAIfO","x":0.06,"y":80,"e":30},{"t":8,"m":"GAIfO","x":0.1,"y":100,"e":50},{"t":8,"m":"GAIfO","x":0.15,"y":150,"e":70},{"t":8,"m":"GAIfO","x":0.2,"y":200,"e":90},{"t":8,"m":"GAIfO","x":0.25,"y":270,"e":100},{"t":8,"m":"GAIfO","x":0.3,"y":220,"e":100},{"t":8,"m":"GAIfO","x":0.35,"y":260,"e":100},{"t":8,"m":"GAIfO","x":0.4,"y":200,"e":100},{"t":8,"m":"GAIfO","x":0.45,"y":350,"e":100},{"t":8,"m":"GAIfO","x":0.5,"y":250,"e":100},{"t":8,"m":"GAIfO","x":0.55,"y":180,"e":100},{"t":8,"m":"GAIfO","x":0.6,"y":320,"e":100},{"t":8,"m":"GAIfO","x":0.65,"y":220,"e":100},{"t":8,"m":"GAIfO","x":0.7,"y":280,"e":100},{"t":8,"m":"GAIfO","x":0.75,"y":200,"e":100},{"t":8,"m":"GAIfO","x":0.8,"y":400,"e":100},{"t":8,"m":"GAIfO","x":0.85,"y":280,"e":100},{"t":8,"m":"GAIfO","x":0.9,"y":450,"e":100},{"t":8,"m":"GAIfO","x":0.95,"y":300,"e":100},{"t":8,"m":"GAIfO","x":1,"y":280,"e":100},
{"t":8,"m":"IQ-Learn","x":0,"y":130,"e":20},{"t":8,"m":"IQ-Learn","x":0.03,"y":120,"e":20},{"t":8,"m":"IQ-Learn","x":0.06,"y":115,"e":20},{"t":8,"m":"IQ-Learn","x":0.1,"y":110,"e":20},{"t":8,"m":"IQ-Learn","x":0.15,"y":120,"e":20},{"t":8,"m":"IQ-Learn","x":0.2,"y":130,"e":20},{"t":8,"m":"IQ-Learn","x":0.25,"y":140,"e":20},{"t":8,"m":"IQ-Learn","x":0.3,"y":150,"e":20},{"t":8,"m":"IQ-Learn","x":0.35,"y":130,"e":20},{"t":8,"m":"IQ-Learn","x":0.4,"y":120,"e":20},{"t":8,"m":"IQ-Learn","x":0.45,"y":100,"e":20},{"t":8,"m":"IQ-Learn","x":0.5,"y":90,"e":20},{"t":8,"m":"IQ-Learn","x":0.55,"y":80,"e":20},{"t":8,"m":"IQ-Learn","x":0.6,"y":100,"e":20},{"t":8,"m":"IQ-Learn","x":0.65,"y":110,"e":20},{"t":8,"m":"IQ-Learn","x":0.7,"y":120,"e":20},{"t":8,"m":"IQ-Learn","x":0.75,"y":110,"e":20},{"t":8,"m":"IQ-Learn","x":0.8,"y":110,"e":20},{"t":8,"m":"IQ-Learn","x":0.85,"y":120,"e":20},{"t":8,"m":"IQ-Learn","x":0.9,"y":130,"e":20},{"t":8,"m":"IQ-Learn","x":0.95,"y":150,"e":20},{"t":8,"m":"IQ-Learn","x":1,"y":170,"e":20},
{"t":8,"m":"BC","x":0,"y":50,"e":8},{"t":8,"m":"BC","x":1,"y":50,"e":8},
{"t":8,"m":"Expert","x":0,"y":900,"e":0},{"t":8,"m":"Expert","x":1,"y":900,"e":0},

{"t":9,"m":"SFM","x":0,"y":150,"e":20},{"t":9,"m":"SFM","x":0.03,"y":120,"e":20},{"t":9,"m":"SFM","x":0.06,"y":100,"e":30},{"t":9,"m":"SFM","x":0.1,"y":200,"e":60},{"t":9,"m":"SFM","x":0.15,"y":350,"e":80},{"t":9,"m":"SFM","x":0.2,"y":500,"e":80},{"t":9,"m":"SFM","x":0.25,"y":600,"e":80},{"t":9,"m":"SFM","x":0.3,"y":650,"e":80},{"t":9,"m":"SFM","x":0.35,"y":780,"e":50},{"t":9,"m":"SFM","x":0.4,"y":790,"e":40},{"t":9,"m":"SFM","x":0.45,"y":800,"e":40},{"t":9,"m":"SFM","x":0.5,"y":820,"e":40},{"t":9,"m":"SFM","x":0.55,"y":810,"e":40},{"t":9,"m":"SFM","x":0.6,"y":810,"e":40},{"t":9,"m":"SFM","x":0.65,"y":800,"e":40},{"t":9,"m":"SFM","x":0.7,"y":820,"e":40},{"t":9,"m":"SFM","x":0.75,"y":840,"e":40},{"t":9,"m":"SFM","x":0.8,"y":810,"e":40},{"t":9,"m":"SFM","x":0.85,"y":820,"e":40},{"t":9,"m":"SFM","x":0.9,"y":820,"e":40},{"t":9,"m":"SFM","x":0.95,"y":810,"e":40},{"t":9,"m":"SFM","x":1,"y":800,"e":40},
{"t":9,"m":"GAIfO","x":0,"y":380,"e":20},{"t":9,"m":"GAIfO","x":0.03,"y":80,"e":20},{"t":9,"m":"GAIfO","x":0.06,"y":100,"e":30},{"t":9,"m":"GAIfO","x":0.1,"y":160,"e":50},{"t":9,"m":"GAIfO","x":0.15,"y":250,"e":70},{"t":9,"m":"GAIfO","x":0.2,"y":380,"e":80},{"t":9,"m":"GAIfO","x":0.25,"y":450,"e":80},{"t":9,"m":"GAIfO","x":0.3,"y":420,"e":80},{"t":9,"m":"GAIfO","x":0.35,"y":520,"e":80},{"t":9,"m":"GAIfO","x":0.4,"y":470,"e":80},{"t":9,"m":"GAIfO","x":0.45,"y":500,"e":80},{"t":9,"m":"GAIfO","x":0.5,"y":440,"e":80},{"t":9,"m":"GAIfO","x":0.55,"y":530,"e":80},{"t":9,"m":"GAIfO","x":0.6,"y":500,"e":80},{"t":9,"m":"GAIfO","x":0.65,"y":520,"e":80},{"t":9,"m":"GAIfO","x":0.7,"y":490,"e":80},{"t":9,"m":"GAIfO","x":0.75,"y":560,"e":80},{"t":9,"m":"GAIfO","x":0.8,"y":580,"e":80},{"t":9,"m":"GAIfO","x":0.85,"y":530,"e":80},{"t":9,"m":"GAIfO","x":0.9,"y":600,"e":80},{"t":9,"m":"GAIfO","x":0.95,"y":520,"e":80},{"t":9,"m":"GAIfO","x":1,"y":510,"e":80},
{"t":9,"m":"MM","x":0,"y":400,"e":20},{"t":9,"m":"MM","x":0.03,"y":150,"e":30},{"t":9,"m":"MM","x":0.06,"y":150,"e":40},{"t":9,"m":"MM","x":0.1,"y":200,"e":60},{"t":9,"m":"MM","x":0.15,"y":300,"e":70},{"t":9,"m":"MM","x":0.2,"y":400,"e":80},{"t":9,"m":"MM","x":0.25,"y":470,"e":80},{"t":9,"m":"MM","x":0.3,"y":450,"e":80},{"t":9,"m":"MM","x":0.35,"y":530,"e":80},{"t":9,"m":"MM","x":0.4,"y":500,"e":80},{"t":9,"m":"MM","x":0.45,"y":480,"e":80},{"t":9,"m":"MM","x":0.5,"y":460,"e":80},{"t":9,"m":"MM","x":0.55,"y":540,"e":80},{"t":9,"m":"MM","x":0.6,"y":520,"e":80},{"t":9,"m":"MM","x":0.65,"y":500,"e":80},{"t":9,"m":"MM","x":0.7,"y":520,"e":80},{"t":9,"m":"MM","x":0.75,"y":580,"e":80},{"t":9,"m":"MM","x":0.8,"y":560,"e":80},{"t":9,"m":"MM","x":0.85,"y":550,"e":80},{"t":9,"m":"MM","x":0.9,"y":590,"e":80},{"t":9,"m":"MM","x":0.95,"y":560,"e":80},{"t":9,"m":"MM","x":1,"y":500,"e":80},
{"t":9,"m":"IQ-Learn","x":0,"y":200,"e":15},{"t":9,"m":"IQ-Learn","x":0.03,"y":180,"e":15},{"t":9,"m":"IQ-Learn","x":0.06,"y":150,"e":15},{"t":9,"m":"IQ-Learn","x":0.1,"y":110,"e":15},{"t":9,"m":"IQ-Learn","x":0.15,"y":140,"e":15},{"t":9,"m":"IQ-Learn","x":0.2,"y":180,"e":15},{"t":9,"m":"IQ-Learn","x":0.25,"y":230,"e":15},{"t":9,"m":"IQ-Learn","x":0.3,"y":180,"e":15},{"t":9,"m":"IQ-Learn","x":0.35,"y":160,"e":15},{"t":9,"m":"IQ-Learn","x":0.4,"y":150,"e":15},{"t":9,"m":"IQ-Learn","x":0.45,"y":190,"e":15},{"t":9,"m":"IQ-Learn","x":0.5,"y":220,"e":15},{"t":9,"m":"IQ-Learn","x":0.55,"y":160,"e":15},{"t":9,"m":"IQ-Learn","x":0.6,"y":130,"e":15},{"t":9,"m":"IQ-Learn","x":0.65,"y":120,"e":15},{"t":9,"m":"IQ-Learn","x":0.7,"y":120,"e":15},{"t":9,"m":"IQ-Learn","x":0.75,"y":130,"e":15},{"t":9,"m":"IQ-Learn","x":0.8,"y":140,"e":15},{"t":9,"m":"IQ-Learn","x":0.85,"y":160,"e":15},{"t":9,"m":"IQ-Learn","x":0.9,"y":180,"e":15},{"t":9,"m":"IQ-Learn","x":0.95,"y":200,"e":15},{"t":9,"m":"IQ-Learn","x":1,"y":260,"e":15},
{"t":9,"m":"BC","x":0,"y":150,"e":10},{"t":9,"m":"BC","x":1,"y":150,"e":10},
{"t":9,"m":"Expert","x":0,"y":900,"e":0},{"t":9,"m":"Expert","x":1,"y":900,"e":0}
]},
"vconcat": [
 {
  "transform": [{"filter": "datum.t < 5"}, {"calculate": "'Average Returns'", "as": "r"}],
  "facet": {
   "row": {"field": "r", "type": "nominal", "title": null, "header": {"labelAngle": -90, "labelOrient": "left", "labelFontSize": 7.3, "labelPadding": 17, "labelFontWeight": "normal"}},
   "column": {"field": "t", "type": "nominal", "title": null, "header": {"labelExpr": "['Walker Walk','Walker Run','Walker Flip','Walker Stand','Cheetah Walk','Cheetah Run','Quadruped Walk','Quadruped Stand','Quadruped Run','Quadruped Jump'][datum.value]", "labelFontSize": 7.3, "labelPadding": 3, "labelFontWeight": "normal"}}
  },
  "spacing": {"column": 27.3, "row": 0},
  "bounds": "flush",
  "resolve": {"axis": {"y": "independent"}},
  "spec": {
   "width": 98, "height": 96,
   "encoding": {
    "x": {"field": "x", "type": "quantitative", "scale": {"domain": [0, 1], "nice": false}, "axis": {"values": [0, 0.25, 0.5, 0.75, 1], "labels": false, "title": null, "grid": false}},
    "y": {"field": "y", "type": "quantitative", "scale": {"domain": [-15, 1000], "nice": false, "zero": false}, "axis": {"values": [0, 300, 600, 900], "title": null, "grid": true, "format": "d"}},
    "color": {"field": "m", "type": "nominal", "title": null, "scale": {"domain": ["BC", "MM", "GAIfO", "IQ-Learn", "SFM", "Expert"], "range": ["#e8383d", "#f9a13a", "#1f74b4", "#7f7f7f", "#e9579a", "#27b086"]}}
   },
   "layer": [
    {"mark": {"type": "errorband", "opacity": 0.18, "clip": true}, "encoding": {"yError": {"field": "e"}}},
    {"mark": {"type": "line", "strokeWidth": 1.3, "clip": true}, "encoding": {"strokeDash": {"field": "m", "type": "nominal", "title": null, "scale": {"domain": ["BC", "MM", "GAIfO", "IQ-Learn", "SFM", "Expert"], "range": [[5, 3], [1, 0], [1, 0], [1, 0], [1, 0], [5, 3]]}}}}
   ]
  }
 },
 {
  "transform": [{"filter": "datum.t >= 5"}, {"calculate": "'Average Returns'", "as": "r"}],
  "facet": {
   "row": {"field": "r", "type": "nominal", "title": null, "header": {"labelAngle": -90, "labelOrient": "left", "labelFontSize": 7.3, "labelPadding": 17, "labelFontWeight": "normal"}},
   "column": {"field": "t", "type": "nominal", "title": null, "header": {"labelExpr": "['Walker Walk','Walker Run','Walker Flip','Walker Stand','Cheetah Walk','Cheetah Run','Quadruped Walk','Quadruped Stand','Quadruped Run','Quadruped Jump'][datum.value]", "labelFontSize": 7.3, "labelPadding": 3, "labelFontWeight": "normal"}}
  },
  "spacing": {"column": 27.3, "row": 0},
  "bounds": "flush",
  "resolve": {"axis": {"y": "independent"}},
  "spec": {
   "width": 98, "height": 96,
   "encoding": {
    "x": {"field": "x", "type": "quantitative", "scale": {"domain": [0, 1], "nice": false}, "axis": {"values": [0, 0.25, 0.5, 0.75, 1], "format": ".2f", "title": "Environment Steps", "grid": false, "titlePadding": 4}},
    "y": {"field": "y", "type": "quantitative", "scale": {"domain": [-15, 1000], "nice": false, "zero": false}, "axis": {"values": [0, 300, 600, 900], "title": null, "grid": true, "format": "d"}}
   },
   "layer": [
    {"mark": {"type": "errorband", "opacity": 0.18, "clip": true}, "encoding": {"yError": {"field": "e"}, "color": {"field": "m", "type": "nominal", "title": null, "scale": {"domain": ["BC", "MM", "GAIfO", "IQ-Learn", "SFM", "Expert"], "range": ["#e8383d", "#f9a13a", "#1f74b4", "#7f7f7f", "#e9579a", "#27b086"]}}}},
    {"mark": {"type": "line", "strokeWidth": 1.3, "clip": true}, "encoding": {"color": {"field": "m", "type": "nominal", "title": null, "scale": {"domain": ["BC", "MM", "GAIfO", "IQ-Learn", "SFM", "Expert"], "range": ["#e8383d", "#f9a13a", "#1f74b4", "#7f7f7f", "#e9579a", "#27b086"]}}, "strokeDash": {"field": "m", "type": "nominal", "title": null, "scale": {"domain": ["BC", "MM", "GAIfO", "IQ-Learn", "SFM", "Expert"], "range": [[5, 3], [1, 0], [1, 0], [1, 0], [1, 0], [5, 3]]}}}},
    {"transform": [{"filter": "datum.m == 'Expert' && datum.x == 1"}], "mark": {"type": "text", "text": "1e6", "align": "right", "baseline": "middle", "dx": 4, "dy": 14, "fontSize": 6.3, "color": "#222"}, "encoding": {"y": {"datum": -15}}}
   ]
  }
 }
],
"spacing": 4,
"config": {
 "font": "DejaVu Sans",
 "view": {"stroke": null},
 "axis": {"labelFontSize": 6.3, "titleFontSize": 7.3, "titleFontWeight": "normal", "domainColor": "#333", "tickColor": "#333", "tickSize": 2.5, "labelColor": "#222", "titleColor": "#222", "gridColor": "#b8b8b8", "gridWidth": 0.8, "labelPadding": 1.5},
 "legend": {"orient": "none", "legendX": 100, "legendY": 252, "direction": "horizontal", "symbolType": "stroke", "symbolStrokeWidth": 1.5, "symbolSize": 260, "symbolOpacity": 1, "labelFontSize": 7.3, "columnPadding": 14, "labelOffset": 6, "labelColor": "#222"},
 "header": {"labelColor": "#222", "labelFontWeight": "normal", "labelFont": "DejaVu Sans"}
}
}
